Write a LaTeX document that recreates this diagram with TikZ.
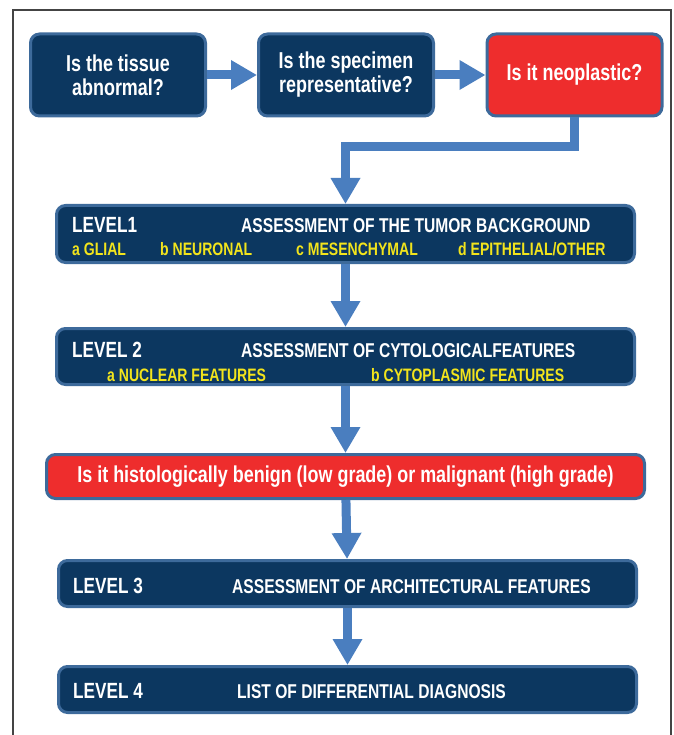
\documentclass[tikz,border=0pt]{standalone}
\usepackage{fontspec}
\usetikzlibrary{arrows.meta}
\newfontfamily\chartfont{Liberation Sans}[FakeStretch=0.78]
\definecolor{navy}{HTML}{0C3760}
\definecolor{edgeblue}{HTML}{3D6A9B}
\definecolor{arrowblue}{HTML}{4A7EBF}
\definecolor{alertred}{HTML}{EE2D2D}
\definecolor{subyellow}{HTML}{F2E41C}
\definecolor{framegray}{HTML}{444444}
\begin{document}
\begin{tikzpicture}
	[x=1pt,y=-1pt,
	box/.style={draw=edgeblue,line width=3pt,fill=navy,rounded corners=9pt,inner sep=0pt},
	ask/.style={box,minimum width=175pt,minimum height=82pt,text=white,align=center,font=\chartfont\bfseries\fontsize{23}{24}\selectfont},
	level/.style={box,minimum width=578pt},
	lvl/.style={inner sep=0pt,anchor=base west,text=white,font=\chartfont\bfseries\fontsize{22}{24}\selectfont},
	head/.style={inner sep=0pt,anchor=base west,text=white,font=\chartfont\bfseries\fontsize{20}{22}\selectfont},
	sub/.style={inner sep=0pt,anchor=base west,text=subyellow,font=\chartfont\bfseries\fontsize{18}{20}\selectfont},
	fatarrow/.style={draw=arrowblue,line width=9pt,line join=miter,-{Triangle[length=26pt,width=28pt]}}]
	\useasboundingbox (0,0) rectangle (673,735);
	\draw[framegray,line width=1.5pt] (13,740) |- (671,10) -- (671,740);
	\node[ask] at (118,75) (tissue) {Is the tissue\\abnormal?};
	\node[ask] at (346,75) (specimen) {Is the specimen\\representative?};
	\node[ask,fill=alertred] at (574.5,75) (neo) {Is it neoplastic?};
	\node[level,minimum height=57pt] at (345.5,234) (lev1) {};
	\node[level,minimum height=56pt] at (345.5,356.5) (lev2) {};
	\node[box,fill=alertred,minimum width=598pt,minimum height=44pt,text=white,font=\chartfont\bfseries\fontsize{23}{24}\selectfont] at (345.5,476.5) (grade) {Is it histologically benign (low grade) or malignant (high grade)};
	\node[level,minimum height=46pt] at (347.5,583.5) (lev3) {};
	\node[level,minimum height=46pt] at (347.5,689.5) (lev4) {};
	\node[lvl] at (72,232) (lev1name) {LEVEL1};
	\node[head] at (241,232) (lev1head) {ASSESSMENT OF THE TUMOR BACKGROUND};
	\node[sub] at (72,255) (glial) {a GLIAL};
	\node[sub] at (160,255) (neuronal) {b NEURONAL};
	\node[sub] at (296,255) (mesench) {c MESENCHYMAL};
	\node[sub] at (458,255) (epith) {d EPITHELIAL/OTHER};
	\node[lvl] at (72,357) (lev2name) {LEVEL 2};
	\node[head] at (241,357) (lev2head) {ASSESSMENT OF CYTOLOGICALFEATURES};
	\node[sub] at (107,381) (nuclear) {a NUCLEAR FEATURES};
	\node[sub] at (371,381) (cyto) {b CYTOPLASMIC FEATURES};
	\node[lvl] at (73,593) (lev3name) {LEVEL 3};
	\node[head] at (232,593) (lev3head) {ASSESSMENT OF ARCHITECTURAL FEATURES};
	\node[lvl] at (73,698) (lev4name) {LEVEL 4};
	\node[head] at (237,698) (lev4head) {LIST OF DIFFERENTIAL DIAGNOSIS};
	\draw[fatarrow] (tissue) -- (specimen);
	\draw[fatarrow] (specimen) -- (neo);
	\draw[fatarrow] (neo.south) -- ++(0,29) -| (lev1.north);
	\draw[fatarrow] (lev1) -- (lev2);
	\draw[fatarrow] (lev2) -- (grade);
	\draw[fatarrow] (grade) -- (lev3);
	\draw[fatarrow] (lev3) -- (lev4);
\end{tikzpicture}
\end{document}
